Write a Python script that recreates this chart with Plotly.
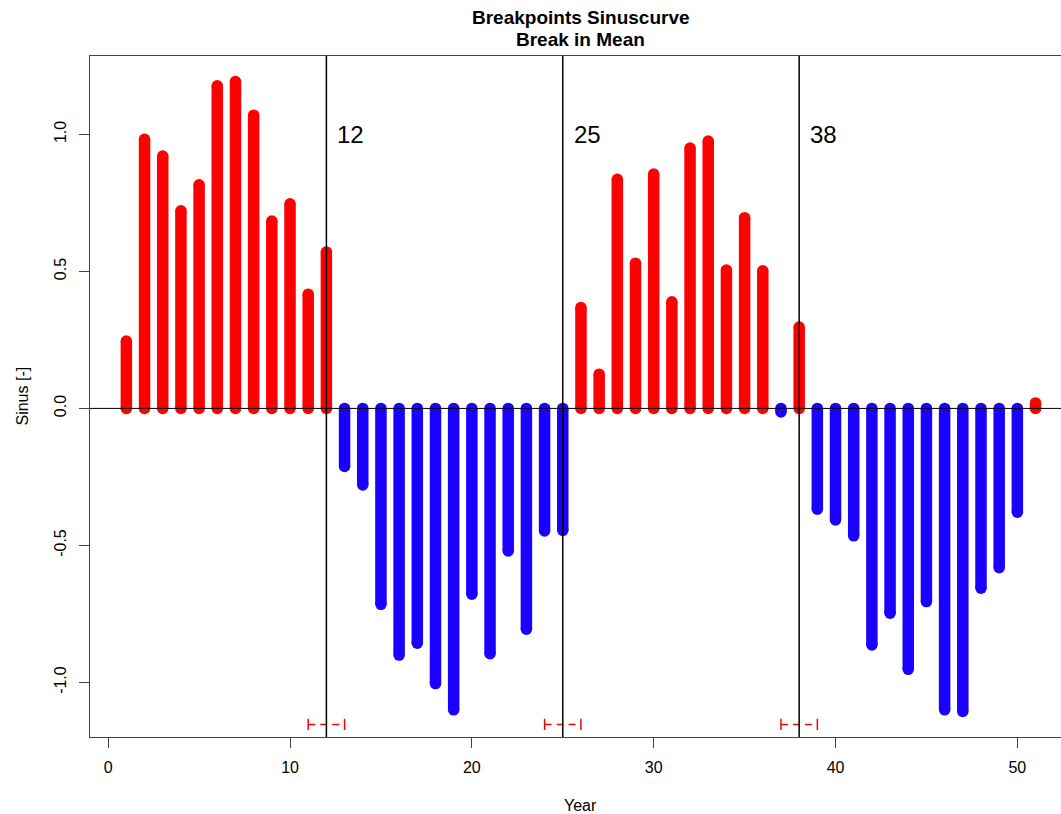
import plotly.graph_objects as go

# Yearly sinus values (Year 1..51)
years = list(range(1, 52))
sinus = [
    0.246, 0.982, 0.921, 0.721, 0.816, 1.177, 1.193, 1.070, 0.684, 0.747,
    0.417, 0.571, -0.212, -0.279, -0.715, -0.900, -0.857, -1.004, -1.100, -0.678,
    -0.895, -0.520, -0.806, -0.447, -0.445, 0.368, 0.125, 0.836, 0.530, 0.855,
    0.389, 0.950, 0.976, 0.505, 0.696, 0.502, -0.013, 0.297, -0.368, -0.407,
    -0.465, -0.863, -0.747, -0.952, -0.705, -1.100, -1.106, -0.656, -0.581, -0.379,
    0.020,
]

# Detected breakpoints and their confidence intervals
breakpoints = [12, 25, 38]
ci_low = [11, 24, 37]
ci_high = [13, 26, 39]
ci_level = -1.153

x_ticks = [0, 10, 20, 30, 40, 50]
y_ticks = [-1.0, -0.5, 0.0, 0.5, 1.0]
y_tick_text = ["-1.0", "-0.5", "0.0", "0.5", "1.0"]

RED = "#ff0000"
BLUE = "#1a00ff"
FONT = "Liberation Sans, Arial, Helvetica, sans-serif"
BAR_W = 11.5

fig = go.Figure()


def stems(color, keep):
    xs, ys = [], []
    for xv, yv in zip(years, sinus):
        if keep(yv):
            xs += [xv, xv, None]
            ys += [0, yv, None]
    # thick stems; markers at both ends act as round line caps
    fig.add_trace(go.Scatter(
        x=xs, y=ys, mode="lines+markers",
        line=dict(color=color, width=BAR_W),
        marker=dict(color=color, size=BAR_W, line=dict(width=0)),
        showlegend=False, hoverinfo="skip",
    ))


stems(RED, lambda v: v >= 0)
stems(BLUE, lambda v: v < 0)

# Confidence intervals of the breakpoints (dashed, with end caps)
ci_x, ci_y = [], []
for lo, hi in zip(ci_low, ci_high):
    ci_x += [lo, hi, None]
    ci_y += [ci_level, ci_level, None]
fig.add_trace(go.Scatter(
    x=ci_x, y=ci_y, mode="lines",
    line=dict(color=RED, width=1.5, dash="7px,5px"),
    showlegend=False, hoverinfo="skip",
))
fig.add_trace(go.Scatter(
    x=ci_low + ci_high, y=[ci_level] * (len(ci_low) + len(ci_high)),
    mode="markers",
    marker=dict(symbol="line-ns", size=8, line=dict(color=RED, width=1.5)),
    showlegend=False, hoverinfo="skip",
))

shapes = [
    dict(type="line", xref="paper", yref="y", x0=0, x1=1, y0=0, y1=0,
         line=dict(color="black", width=1), layer="above"),
]
annotations = []
for bp in breakpoints:
    shapes.append(dict(type="line", xref="x", yref="paper", x0=bp, x1=bp,
                       y0=0, y1=1, line=dict(color="black", width=1.5),
                       layer="above"))
    annotations.append(dict(x=bp, y=1.0, xref="x", yref="y", text=str(bp),
                            showarrow=False, xanchor="left", yanchor="middle",
                            xshift=9, font=dict(family=FONT, size=24,
                                                color="black")))

# Two-line bold title centred over the plotting region
annotations += [
    dict(x=26, y=1.056, xref="x", yref="paper",
         text="<b>Breakpoints Sinuscurve</b>", showarrow=False,
         xanchor="center", yanchor="middle",
         font=dict(family=FONT, size=19, color="black")),
    dict(x=26, y=1.0235, xref="x", yref="paper",
         text="<b>Break in Mean</b>", showarrow=False,
         xanchor="center", yanchor="middle",
         font=dict(family=FONT, size=19, color="black")),
    dict(x=26, y=-0.1, xref="x", yref="paper", text="Year",
         showarrow=False, xanchor="center", yanchor="middle",
         font=dict(family=FONT, size=16, color="black")),
    dict(x=-0.07, y=0.5, xref="paper", yref="paper", text="Sinus [-]",
         showarrow=False, xanchor="center", yanchor="middle", textangle=-90,
         font=dict(family=FONT, size=16, color="black")),
]

fig.update_layout(
    width=1061, height=814, autosize=False,
    margin=dict(l=90, r=0, t=56, b=77, pad=0),
    paper_bgcolor="white", plot_bgcolor="white",
    shapes=shapes, annotations=annotations,
    font=dict(family=FONT, size=16, color="black"),
    xaxis=dict(
        range=[-1, 52.40], tickvals=x_ticks, ticks="outside", ticklen=10,
        tickwidth=1, tickcolor="#444", showline=True, linecolor="#444",
        linewidth=1, mirror=True, showgrid=False, zeroline=False,
        ticklabelstandoff=6, tickfont=dict(family=FONT, size=16,
                                           color="black"),
    ),
    yaxis=dict(
        range=[-1.199, 1.286], tickvals=y_ticks, ticktext=y_tick_text,
        tickangle=-90, ticks="outside", ticklen=10, tickwidth=1,
        tickcolor="#444", showline=True, linecolor="#444", linewidth=1,
        showgrid=False, zeroline=False, ticklabelstandoff=7,
        tickfont=dict(family=FONT, size=16, color="black"),
    ),
)

fig.write_html("out.html")
